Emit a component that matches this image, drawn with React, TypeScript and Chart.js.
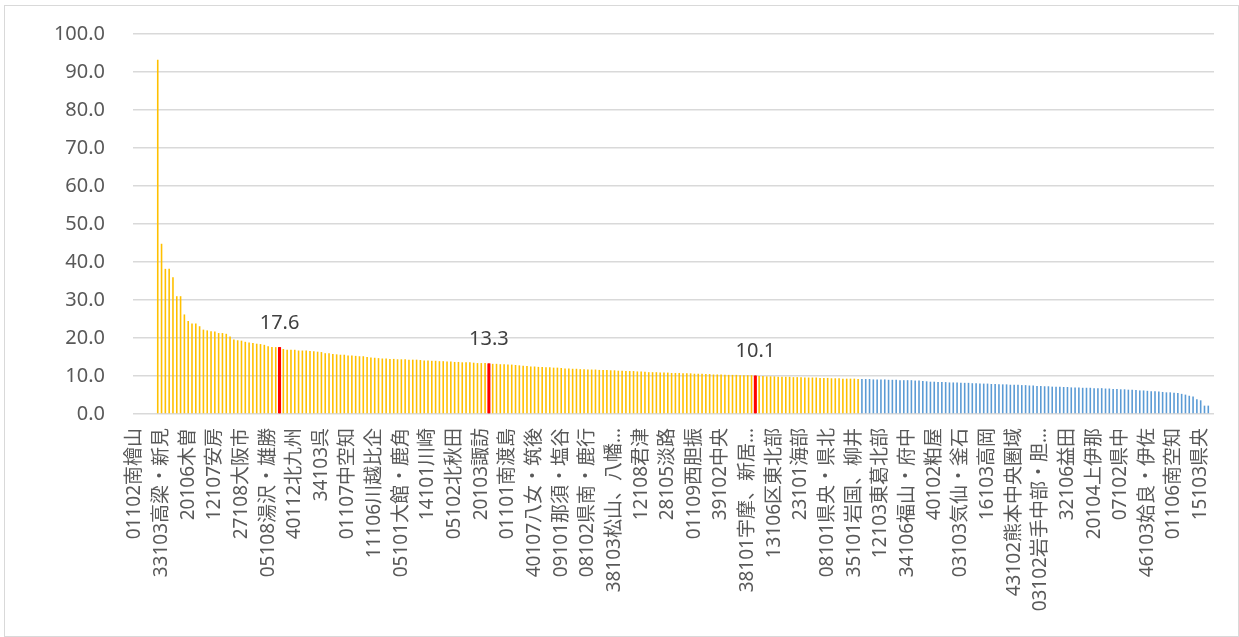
import React, { useEffect, useRef } from "react";
import { Chart, registerables } from "chart.js";

Chart.register(...registerables);

// Visible category labels (every 7th category is labelled on the axis)
const tickLabels: string[] = [
  "01102南檜山", "33103高梁・新見", "20106木曽", "12107安房", "27108大阪市",
  "05108湯沢・雄勝", "40112北九州", "34103呉", "01107中空知", "11106川越比企",
  "05101大館・鹿角", "14101川崎", "05102北秋田", "20103諏訪", "01101南渡島",
  "40107八女・筑後", "09101那須・塩谷", "08102県南・鹿行", "38103松山、八幡…", "12108君津",
  "28105淡路", "01109西胆振", "39102中央", "38101宇摩、新居…", "13106区東北部",
  "23101海部", "08101県央・県北", "35101岩国、柳井", "12103東葛北部", "34106福山・府中",
  "40102粕屋", "03103気仙・釜石", "16103高岡", "43102熊本中央圏域", "03102岩手中部・胆…",
  "32106益田", "20104上伊那", "07102県中", "46103姶良・伊佐", "01106南空知",
  "15103県央",
];
const labelEvery = 7;

// Values per category (null = no bar)
const values: (number | null)[] = [
  null, null, null, null, null, null,
  93.2, 44.8, 38.2, 38.2, 36.0, 31.0, 31.0, 26.2, 24.5, 23.8,
  23.8, 23.1, 22.2, 22.0, 21.8, 21.7, 21.3, 21.3, 21.1, 20.4,
  19.6, 19.4, 19.3, 19.0, 18.8, 18.7, 18.5, 18.4, 18.2, 17.8,
  17.6, 17.6, 17.6,
  17.1, 16.9, 16.9, 16.9, 16.7, 16.7, 16.7, 16.6, 16.5, 16.4,
  16.3, 16.0, 16.0, 15.8, 15.7, 15.6, 15.6,
  15.4, 15.4, 15.3, 15.2, 15.2,
  15.0, 14.9, 14.8, 14.7, 14.6, 14.6,
  14.5, 14.5, 14.4, 14.4, 14.4, 14.3, 14.3, 14.3,
  14.2, 14.1, 14.1, 14.0, 14.0, 13.9, 13.9,
  13.8, 13.8, 13.7, 13.7, 13.6, 13.6, 13.6,
  13.5, 13.4, 13.4, 13.4,
  13.3,
  13.2, 13.2, 13.1, 13.1, 13.0, 13.0, 12.9,
  12.8, 12.7, 12.6, 12.5, 12.5,
  12.4, 12.4, 12.3, 12.3, 12.2, 12.2, 12.1,
  12.0, 12.0, 11.9, 11.9, 11.8, 11.8,
  11.7, 11.7, 11.7, 11.6, 11.6, 11.6, 11.5,
  11.5, 11.4, 11.4, 11.3, 11.3,
  11.3, 11.2, 11.2,
  11.1, 11.0, 11.0, 11.0, 10.9, 10.9, 10.9,
  10.8, 10.8, 10.8, 10.7, 10.7, 10.7, 10.6, 10.6, 10.6,
  10.5, 10.5, 10.4, 10.4, 10.4, 10.3, 10.3, 10.3, 10.3, 10.2, 10.2, 10.2, 10.2,
  10.1,
  10.0, 10.0, 9.9, 9.9, 9.9, 9.8, 9.8, 9.8, 9.8, 9.7,
  9.7, 9.7, 9.6, 9.6, 9.6, 9.6, 9.5, 9.5, 9.5,
  9.4, 9.4, 9.4, 9.3, 9.3, 9.3, 9.3, 9.2,
  9.2, 9.2, 9.2, 9.1, 9.1, 9.1, 9.1, 9.0, 9.0, 9.0, 8.9, 8.9, 8.9, 8.9, 8.8, 8.8,
  8.7, 8.6, 8.5, 8.5,
  8.4, 8.4, 8.4, 8.3, 8.3, 8.3, 8.2, 8.2, 8.2,
  8.1, 8.1, 8.0, 8.0, 8.0, 7.9, 7.9, 7.8,
  7.8, 7.8, 7.7, 7.7, 7.7, 7.6, 7.6, 7.5, 7.5,
  7.4, 7.4, 7.3, 7.3, 7.2, 7.2, 7.2, 7.1, 7.1,
  7.0, 7.0, 7.0, 6.9, 6.9, 6.9, 6.8, 6.8, 6.8,
  6.7, 6.7, 6.6, 6.6, 6.5, 6.5, 6.4, 6.4,
  6.3, 6.2, 6.2, 6.1, 6.0, 6.0, 5.9,
  5.8, 5.7, 5.7, 5.6, 5.5,
  5.3, 5.1, 4.8, 4.6, 3.9, 3.6,
  2.2, 2.2,
  null,
];

// Categories highlighted in red (with value labels)
const highlightIndex: number[] = [38, 93, 163];
// First category of the blue group
const blueStartIndex = 191;

const yMin = 0;
const yMax = 100;
const yStep = 10;

const YELLOW = "#FFC000";
const BLUE = "#5B9BD5";
const RED = "#FF0000";
const GRID = "#D9D9D9";
const TEXT = "#595959";

export default function App() {
  const ref = useRef<HTMLCanvasElement>(null);

  useEffect(() => {
    if (!ref.current) return;
    const categories = values.map((_, i) =>
      i % labelEvery === 0 ? tickLabels[i / labelEvery] ?? "" : ""
    );
    const colors = values.map((_, i) =>
      highlightIndex.includes(i) ? RED : i >= blueStartIndex ? BLUE : YELLOW
    );
    const highlight = values.map((v, i) => (highlightIndex.includes(i) ? v : null));

    const labelPlugin = {
      id: "highlightLabels",
      afterDatasetsDraw(chart: any) {
        const meta = chart.getDatasetMeta(0);
        const ctx = chart.ctx;
        ctx.save();
        ctx.font = "20px 'Noto Sans', 'Noto Sans CJK JP', sans-serif";
        ctx.fillStyle = "#404040";
        ctx.textAlign = "center";
        ctx.textBaseline = "middle";
        highlightIndex.forEach((i) => {
          const el = meta.data[i];
          const v = values[i];
          if (el && v != null) ctx.fillText(v.toFixed(1), el.x, el.y - 24);
        });
        ctx.restore();
      },
    };

    const chart = new Chart(ref.current, {
      type: "bar",
      data: {
        labels: categories,
        datasets: [
          {
            data: highlight,
            backgroundColor: RED,
            barPercentage: 0.8,
            categoryPercentage: 1,
            grouped: false,
          } as any,
          {
            data: values,
            backgroundColor: colors,
            barPercentage: 0.42,
            categoryPercentage: 1,
            grouped: false,
          } as any,
        ],
      },
      options: {
        responsive: false,
        animation: false,
        devicePixelRatio: 1,
        layout: { padding: { top: 34, right: 25, bottom: 0, left: 0 } },
        plugins: {
          legend: { display: false },
          tooltip: { enabled: false },
        },
        scales: {
          x: {
            grid: { display: false, drawTicks: false },
            border: { display: false },
            ticks: {
              autoSkip: false,
              maxRotation: 90,
              minRotation: 90,
              padding: 14,
              color: TEXT,
              font: { family: "'Noto Sans', 'Noto Sans CJK JP', sans-serif", size: 19 },
            },
            afterFit: (s: any) => {
              s.height = 223;
              s.paddingLeft = 0;
              s.paddingRight = 0;
            },
          },
          y: {
            min: yMin,
            max: yMax,
            ticks: {
              stepSize: yStep,
              padding: 28,
              color: TEXT,
              font: { family: "'Noto Sans', sans-serif", size: 20 },
              callback: (v: any) => Number(v).toFixed(1),
            },
            grid: { color: GRID, lineWidth: 1.5, drawTicks: false },
            border: { display: false },
            afterFit: (s: any) => {
              s.width = 133;
              s.paddingTop = 0;
              s.paddingBottom = 0;
            },
          },
        },
      },
      plugins: [labelPlugin],
    });
    return () => chart.destroy();
  }, []);

  return (
    <div
      style={{
        position: "absolute",
        left: 0,
        top: 0,
        width: 1239,
        height: 637,
        background: "#ffffff",
        overflow: "hidden",
      }}
    >
      <canvas
        ref={ref}
        width={1239}
        height={637}
        style={{ position: "absolute", left: 0, top: 0, width: 1239, height: 637 }}
      />
      <div
        style={{
          position: "absolute",
          left: 4,
          top: 5,
          width: 1233,
          height: 630,
          border: "1px solid #D9D9D9",
          pointerEvents: "none",
        }}
      />
    </div>
  );
}
